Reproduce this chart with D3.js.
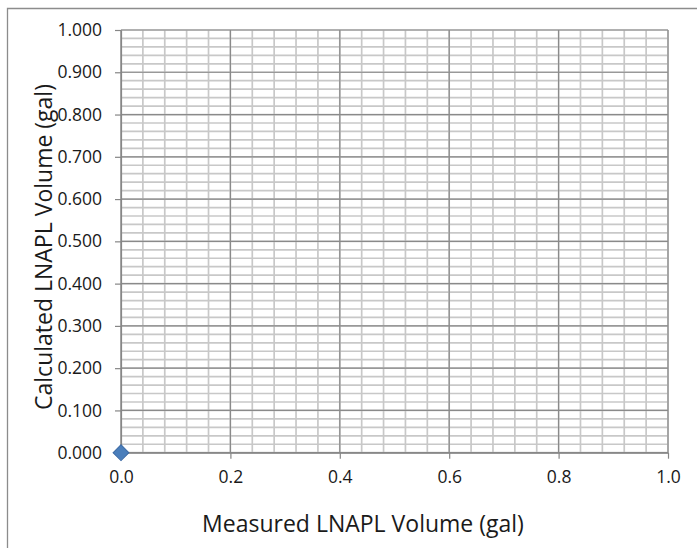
<!DOCTYPE html>
<html>
<head>
<meta charset="utf-8">
<script src="https://cdn.jsdelivr.net/npm/d3@7"></script>
<style>
  html, body { margin: 0; padding: 0; background: #fff; }
  svg { display: block; }
  text { font-family: "Open Sans", "Noto Sans", sans-serif; fill: #1a1a1a; }
</style>
</head>
<body>
<svg id="chart" width="697" height="548"></svg>
<script>
// ---- data ----
const measured = [0.0];
const calculated = [0.0];
const xTickValues = [0.0, 0.2, 0.4, 0.6, 0.8, 1.0];
const yTickValues = [0.0, 0.1, 0.2, 0.3, 0.4, 0.5, 0.6, 0.7, 0.8, 0.9, 1.0];
const xMinorStep = 0.04;
const yMinorStep = 0.02;
const xTitle = "Measured LNAPL Volume (gal)";
const yTitle = "Calculated LNAPL Volume (gal)";

// ---- layout ----
const W = 697, H = 548;
const plot = { left: 121, right: 668, top: 30, bottom: 452.7 };
const svg = d3.select("#chart");

const x = d3.scaleLinear().domain([0, 1]).range([plot.left, plot.right]);
const y = d3.scaleLinear().domain([0, 1]).range([plot.bottom, plot.top]);

// chart area border (top + left only visible)
svg.append("path")
  .attr("d", `M7.5,${H} V8.5 H${W}`)
  .attr("fill", "none")
  .attr("stroke", "#8c8c8c")
  .attr("stroke-width", 1.3);

const g = svg.append("g");

// minor gridlines
const xMinor = d3.range(0, 1 + 1e-9, xMinorStep);
const yMinor = d3.range(0, 1 + 1e-9, yMinorStep);
g.append("g").selectAll("line").data(xMinor).join("line")
  .attr("x1", d => x(d)).attr("x2", d => x(d))
  .attr("y1", plot.top).attr("y2", plot.bottom)
  .attr("stroke", "#c8c8c8").attr("stroke-width", 1.7);
g.append("g").selectAll("line").data(yMinor).join("line")
  .attr("y1", d => y(d)).attr("y2", d => y(d))
  .attr("x1", plot.left).attr("x2", plot.right)
  .attr("stroke", "#c8c8c8").attr("stroke-width", 1.7);

// major gridlines
g.append("g").selectAll("line").data(xTickValues).join("line")
  .attr("x1", d => x(d)).attr("x2", d => x(d))
  .attr("y1", plot.top).attr("y2", plot.bottom)
  .attr("stroke", "#8a8a8a").attr("stroke-width", 1.2);
g.append("g").selectAll("line").data(yTickValues).join("line")
  .attr("y1", d => y(d)).attr("y2", d => y(d))
  .attr("x1", plot.left).attr("x2", plot.right)
  .attr("stroke", "#8a8a8a").attr("stroke-width", 1.2);

// axes
const xAxis = d3.axisBottom(x).tickValues(xTickValues)
  .tickFormat(d3.format(".1f")).tickSize(6).tickSizeOuter(0).tickPadding(12);
const yAxis = d3.axisLeft(y).tickValues(yTickValues)
  .tickFormat(d3.format(".3f")).tickSize(6).tickSizeOuter(0).tickPadding(13);

const gx = svg.append("g").attr("transform", `translate(0,${plot.bottom})`).call(xAxis);
const gy = svg.append("g").attr("transform", `translate(${plot.left},0)`).call(yAxis);
[gx, gy].forEach(a => {
  a.select(".domain").attr("stroke", "#868686").attr("stroke-width", 1.2);
  a.selectAll(".tick line").attr("stroke", "#868686").attr("stroke-width", 1.2);
  a.selectAll(".tick text")
    .attr("font-family", "'Open Sans', 'Noto Sans', sans-serif")
    .attr("font-size", 17.5).attr("fill", "#1a1a1a");
});

// axis titles
svg.append("text")
  .attr("x", 363).attr("y", 532)
  .attr("text-anchor", "middle")
  .attr("font-size", 23)
  .text(xTitle);
svg.append("text")
  .attr("transform", `translate(52,247) rotate(-90)`)
  .attr("text-anchor", "middle")
  .attr("font-size", 23)
  .text(yTitle);

// series marker (diamond)
const diamond = d3.symbol().type(d3.symbolSquare).size(125);
svg.append("g").selectAll("path").data(measured.map((m, i) => [m, calculated[i]])).join("path")
  .attr("d", diamond)
  .attr("transform", d => `translate(${x(d[0])},${y(d[1])}) rotate(45)`)
  .attr("fill", "#4a7ebb")
  .attr("stroke", "#3c6aa5")
  .attr("stroke-width", 1);
</script>
</body>
</html>
